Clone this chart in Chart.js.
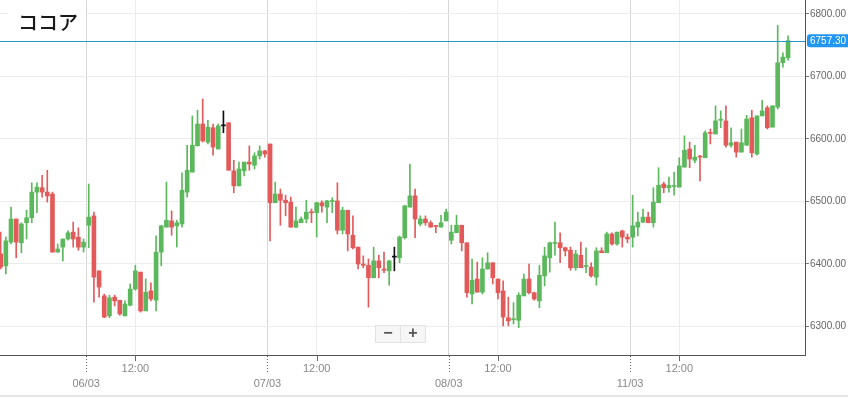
<!DOCTYPE html>
<html>
<head>
<meta charset="utf-8">
<script src="https://cdn.jsdelivr.net/npm/chart.js@4.4.0/dist/chart.umd.min.js"></script>
<style>
  html, body { margin: 0; padding: 0; background: #fff; }
</style>
</head>
<body>
<canvas id="kline" width="848" height="397"></canvas>
<script>
const title = 'ココア';

// 15-min candles
const opens = [
  6416, 6397, 6435, 6472, 6434, 6466, 6474, 6515, 6522, 6515,
  6512, 6419, 6427, 6440, 6451, 6443, 6427, 6462, 6477, 6389,
  6349, 6317, 6347, 6342, 6317, 6334, 6360, 6387, 6325, 6357,
  6342, 6419, 6459, 6469, 6461, 6464, 6515, 6547, 6589, 6624,
  6595, 6618, 6584, 6621, 6626, 6549, 6525, 6549, 6563, 6558,
  6573, 6581, 6592, 6498, 6512, 6502, 6499, 6459, 6466, 6472,
  6483, 6482, 6498, 6491, 6500, 6501, 6454, 6486, 6446, 6427,
  6400, 6398, 6378, 6405, 6392, 6389, 6411, 6410, 6442, 6491,
  6509, 6464, 6472, 6466, 6461, 6459, 6469, 6438, 6450, 6462,
  6434, 6352, 6376, 6355, 6392, 6402, 6376, 6357, 6314, 6311,
  6310, 6349, 6376, 6354, 6341, 6381, 6410, 6433, 6434, 6426,
  6422, 6394, 6414, 6396, 6395, 6379, 6421, 6418, 6448, 6432,
  6453, 6443, 6443, 6459, 6467, 6475, 6466, 6498, 6528, 6522,
  6524, 6523, 6555, 6584, 6566, 6572, 6570, 6610, 6608, 6630,
  6629, 6590, 6595, 6579, 6590, 6634, 6576, 6637, 6650, 6619,
  6651, 6722, 6730
];
const closes = [
  6395, 6437, 6472, 6435, 6464, 6474, 6515, 6523, 6515, 6509,
  6419, 6424, 6440, 6450, 6440, 6427, 6435, 6475, 6379, 6363,
  6315, 6346, 6341, 6320, 6336, 6360, 6389, 6325, 6355, 6344,
  6419, 6461, 6470, 6459, 6466, 6518, 6550, 6590, 6624, 6597,
  6619, 6587, 6621, 6621, 6550, 6525, 6552, 6563, 6560, 6573,
  6581, 6576, 6498, 6512, 6502, 6498, 6459, 6469, 6472, 6483,
  6482, 6498, 6493, 6501, 6501, 6454, 6486, 6448, 6426, 6400,
  6398, 6378, 6405, 6394, 6390, 6405, 6411, 6443, 6493, 6509,
  6472, 6472, 6466, 6459, 6460, 6466, 6483, 6451, 6462, 6434,
  6354, 6374, 6355, 6392, 6402, 6378, 6354, 6315, 6309, 6312,
  6350, 6376, 6354, 6344, 6382, 6413, 6434, 6434, 6426, 6421,
  6394, 6416, 6394, 6397, 6381, 6421, 6418, 6448, 6432, 6451,
  6443, 6440, 6461, 6467, 6475, 6466, 6499, 6526, 6522, 6526,
  6525, 6557, 6582, 6568, 6571, 6571, 6610, 6609, 6629, 6631,
  6590, 6594, 6579, 6594, 6632, 6578, 6637, 6645, 6618, 6653,
  6722, 6731, 6757.3
];
const highs = [
  6451, 6443, 6491, 6472, 6466, 6486, 6530, 6530, 6542, 6550,
  6515, 6432, 6440, 6453, 6467, 6458, 6440, 6528, 6483, 6389,
  6352, 6350, 6350, 6342, 6341, 6368, 6398, 6387, 6376, 6370,
  6445, 6462, 6531, 6485, 6470, 6546, 6590, 6637, 6646, 6664,
  6630, 6624, 6624, 6645, 6626, 6566, 6563, 6563, 6589, 6578,
  6589, 6582, 6592, 6531, 6520, 6510, 6507, 6491, 6475, 6502,
  6488, 6499, 6501, 6502, 6506, 6530, 6491, 6486, 6477, 6427,
  6413, 6408, 6427, 6414, 6419, 6406, 6427, 6445, 6494, 6560,
  6520, 6477, 6477, 6469, 6462, 6478, 6488, 6462, 6478, 6462,
  6434, 6408, 6403, 6410, 6418, 6402, 6376, 6373, 6347, 6338,
  6354, 6384, 6400, 6355, 6398, 6427, 6435, 6467, 6450, 6427,
  6427, 6422, 6435, 6426, 6402, 6426, 6426, 6451, 6450, 6451,
  6454, 6448, 6510, 6483, 6488, 6483, 6522, 6554, 6531, 6539,
  6547, 6570, 6605, 6595, 6590, 6574, 6613, 6616, 6653, 6645,
  6653, 6618, 6595, 6616, 6638, 6646, 6637, 6662, 6653, 6653,
  6782, 6738, 6765
];
const lows = [
  6392, 6384, 6432, 6410, 6418, 6440, 6466, 6482, 6507, 6499,
  6419, 6419, 6405, 6438, 6427, 6422, 6419, 6426, 6339, 6347,
  6314, 6314, 6333, 6318, 6317, 6333, 6358, 6323, 6325, 6341,
  6325, 6397, 6459, 6446, 6427, 6459, 6507, 6547, 6589, 6595,
  6592, 6574, 6584, 6610, 6550, 6514, 6525, 6541, 6550, 6552,
  6568, 6571, 6437, 6498, 6462, 6477, 6459, 6458, 6466, 6466,
  6466, 6443, 6483, 6466, 6482, 6448, 6448, 6421, 6424, 6392,
  6394, 6331, 6378, 6378, 6386, 6366, 6389, 6402, 6440, 6491,
  6442, 6461, 6462, 6459, 6450, 6459, 6469, 6432, 6450, 6421,
  6347, 6336, 6355, 6352, 6392, 6368, 6344, 6301, 6301, 6304,
  6298, 6349, 6352, 6342, 6330, 6365, 6387, 6414, 6402, 6413,
  6390, 6390, 6394, 6386, 6379, 6366, 6418, 6418, 6430, 6430,
  6427, 6434, 6427, 6445, 6466, 6466, 6459, 6498, 6514, 6515,
  6510, 6523, 6555, 6554, 6562, 6533, 6570, 6592, 6608, 6618,
  6587, 6587, 6571, 6579, 6590, 6571, 6574, 6637, 6616, 6619,
  6648, 6715, 6726
];
const lastPrice = 6757.30;
const blackCandles = [43, 76];

// axis ticks, in candle index units
const dayTicks = [16.5, 51.5, 86.5, 121.5];
const dayLabels = ['06/03', '07/03', '08/03', '11/03'];
const noonTicks = [26, 61, 96, 131];
const yTicks = [6300, 6400, 6500, 6600, 6700, 6800];

const UP = '#5cb85c';
const DOWN = '#e25a5a';
const FLAT = '#111111';

function candleColor(i) {
  if (blackCandles.includes(i)) return FLAT;
  return closes[i] >= opens[i] ? UP : DOWN;
}

const colors = opens.map((o, i) => candleColor(i));
const wicks = opens.map((o, i) => ({ x: i, y: [lows[i], highs[i]] }));
const bodies = opens.map((o, i) => ({ x: i, y: [o, closes[i]] }));

const overlay = {
  id: 'overlay',
  afterDraw(chart) {
    const ctx = chart.ctx;
    const area = chart.chartArea;
    const xs = chart.scales.x;
    const ys = chart.scales.y;
    ctx.save();

    // last price line
    const lineY = Math.round(ys.getPixelForValue(lastPrice));
    ctx.fillStyle = 'rgb(40, 150, 200)';
    ctx.fillRect(area.left, lineY, area.right - area.left, 1);

    // title
    ctx.fillStyle = '#fff';
    ctx.fillRect(8, 0, 78, 38);
    ctx.fillStyle = '#1a1a1a';
    ctx.font = '500 20px "Noto Sans CJK JP Medium", "Noto Sans CJK JP"';
    ctx.textBaseline = 'middle';
    ctx.textAlign = 'left';
    ctx.fillText(title, 18, 22);

    // x tick marks
    ctx.strokeStyle = '#666';
    ctx.lineWidth = 1;
    dayTicks.forEach(v => {
      const px = Math.round(xs.getPixelForValue(v)) + 0.5;
      ctx.setLineDash([1, 2]);
      ctx.beginPath();
      ctx.moveTo(px, area.bottom + 1);
      ctx.lineTo(px, area.bottom + 19);
      ctx.stroke();
    });
    ctx.setLineDash([]);
    noonTicks.forEach(v => {
      const px = Math.round(xs.getPixelForValue(v)) + 0.5;
      ctx.beginPath();
      ctx.moveTo(px, area.bottom);
      ctx.lineTo(px, area.bottom + 6);
      ctx.stroke();
    });

    // last price tag
    const py = ys.getPixelForValue(lastPrice);
    ctx.fillStyle = '#2196f3';
    ctx.beginPath();
    ctx.roundRect(area.right + 2, py - 6.5, 46, 13, 3);
    ctx.fill();
    ctx.fillStyle = '#fff';
    ctx.font = '10px "Liberation Sans"';
    ctx.textBaseline = 'middle';
    ctx.fillText(lastPrice.toFixed(2), area.right + 5, py + 0.5);

    // zoom buttons
    ctx.fillStyle = '#f6f6f6';
    ctx.strokeStyle = '#e2e2e2';
    ctx.fillRect(375, 325, 51, 18);
    ctx.strokeRect(375.5, 325.5, 50, 17);
    ctx.beginPath();
    ctx.moveTo(400.5, 326);
    ctx.lineTo(400.5, 342);
    ctx.stroke();
    ctx.fillStyle = '#555';
    ctx.font = 'bold 16px "Liberation Sans"';
    ctx.textAlign = 'center';
    ctx.fillText('\u2212', 388, 334);
    ctx.fillText('+', 413, 334);

    // bottom strip
    ctx.fillStyle = '#e6e6e6';
    ctx.fillRect(0, 395, chart.width, 2);
    ctx.restore();
  }
};

new Chart(document.getElementById('kline').getContext('2d'), {
  type: 'bar',
  data: {
    datasets: [
      {
        data: wicks,
        backgroundColor: colors,
        barThickness: 1,
        grouped: false,
        borderWidth: 0
      },
      {
        data: bodies,
        backgroundColor: colors,
        barThickness: 4,
        grouped: false,
        borderWidth: 0,
        minBarLength: 1
      }
    ]
  },
  options: {
    responsive: false,
    animation: false,
    layout: { padding: 0 },
    plugins: {
      legend: { display: false },
      tooltip: { enabled: false }
    },
    scales: {
      x: {
        type: 'linear',
        min: -0.13,
        max: 155.27,
        offset: false,
        afterBuildTicks: s => {
          s.ticks = dayTicks.concat(noonTicks).sort((a, b) => a - b).map(v => ({ value: v }));
        },
        afterFit: s => {
          s.height = 42;
          s.paddingLeft = 0;
          s.paddingRight = 0;
        },
        grid: {
          offset: false,
          drawTicks: false,
          color: c => (c.tick && dayTicks.includes(c.tick.value)) ? '#d6d6d6' : '#ececec'
        },
        border: { color: '#555' },
        ticks: {
          autoSkip: false,
          maxRotation: 0,
          padding: 6,
          color: '#888',
          font: { family: 'Liberation Sans', size: 11, lineHeight: '15px' },
          callback: v => {
            const d = dayTicks.indexOf(v);
            if (d >= 0) return ['', dayLabels[d]];
            return noonTicks.includes(v) ? '12:00' : null;
          }
        }
      },
      y: {
        position: 'right',
        min: 6254.4,
        max: 6822.4,
        afterBuildTicks: s => {
          s.ticks = yTicks.map(v => ({ value: v }));
        },
        afterFit: s => {
          s.width = 43;
          s.paddingTop = 0;
          s.paddingBottom = 0;
        },
        grid: { color: '#ececec', tickColor: '#777', tickLength: 4 },
        border: { color: '#555' },
        ticks: {
          padding: 1,
          color: '#666',
          font: { family: 'Liberation Sans', size: 10 },
          callback: v => v.toFixed(2)
        }
      }
    }
  },
  plugins: [overlay]
});
</script>
</body>
</html>
